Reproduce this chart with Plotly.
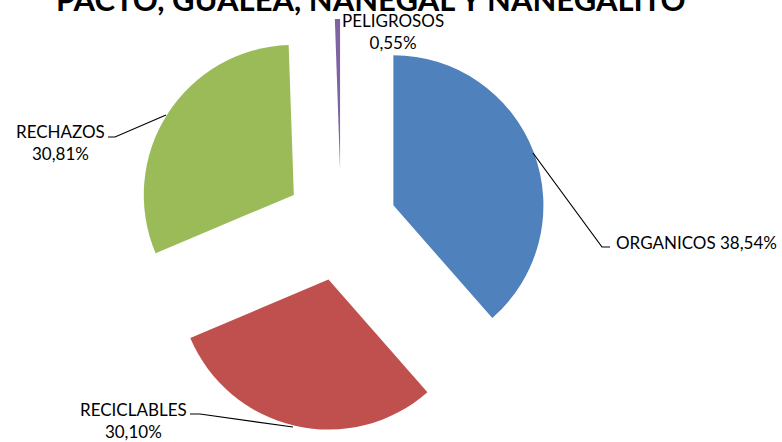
import plotly.graph_objects as go

W, H = 782, 442

labels = ["ORGANICOS", "RECICLABLES", "RECHAZOS", "PELIGROSOS"]
values = [38.54, 30.10, 30.81, 0.55]
pct_text = ["38,54%", "30,10%", "30,81%", "0,55%"]
colors = ["#4F81BD", "#C0504D", "#9BBB59", "#8064A2"]
title_text = "PACTO, GUALEA, NANEGAL Y NANEGALITO"


def px(x):
    return x / W


def py(y):
    return 1 - y / H


fig = go.Figure(go.Pie(
    labels=labels,
    values=values,
    sort=False,
    direction="clockwise",
    rotation=0,
    pull=[0.373] * 4,
    marker=dict(colors=colors, line=dict(width=0)),
    textinfo="none",
    hoverinfo="label+percent",
    showlegend=False,
    domain=dict(x=[px(135), px(547)], y=[py(431), py(19)]),
))

font_lbl = dict(family="Lato, Carlito, sans-serif", size=17, color="#000000")

# data labels
label_specs = [
    (labels[0] + " " + pct_text[0], 614, 242, "left"),
    (labels[1] + "<br>" + pct_text[1], 133, 420, "center"),
    (labels[2] + "<br>" + pct_text[2], 60, 143, "center"),
    (labels[3] + "<br>" + pct_text[3], 393, 32, "center"),
]
for txt, x, y, xa in label_specs:
    fig.add_annotation(x=px(x), y=py(y), xref="paper", yref="paper",
                       text=txt, showarrow=False, xanchor=xa, yanchor="middle",
                       align="center", font=font_lbl)

# leader lines
leaders = [
    [(533, 153), (602, 247), (610, 247)],
    [(190, 414), (200, 414), (293, 427)],
    [(108, 137), (115, 137), (166, 115)],
]
for pts in leaders:
    path = "M " + " L ".join(f"{px(x)},{py(y)}" for x, y in pts)
    fig.add_shape(type="path", path=path, xref="paper", yref="paper",
                  line=dict(color="#000000", width=1.2))

# title (clipped at top as in the reference)
fig.add_annotation(x=px(371), y=py(-1), xref="paper", yref="paper",
                   text="<b>" + title_text + "</b>", showarrow=False,
                   xanchor="center", yanchor="middle",
                   font=dict(family="Lato, Carlito, sans-serif", size=31, color="#000000"))

fig.update_layout(width=W, height=H, margin=dict(l=0, r=0, t=0, b=0),
                  paper_bgcolor="#FFFFFF", plot_bgcolor="#FFFFFF")

fig.write_html("out.html", config={"displayModeBar": False},
               post_script="document.body.style.margin='0';document.body.style.padding='0';")
